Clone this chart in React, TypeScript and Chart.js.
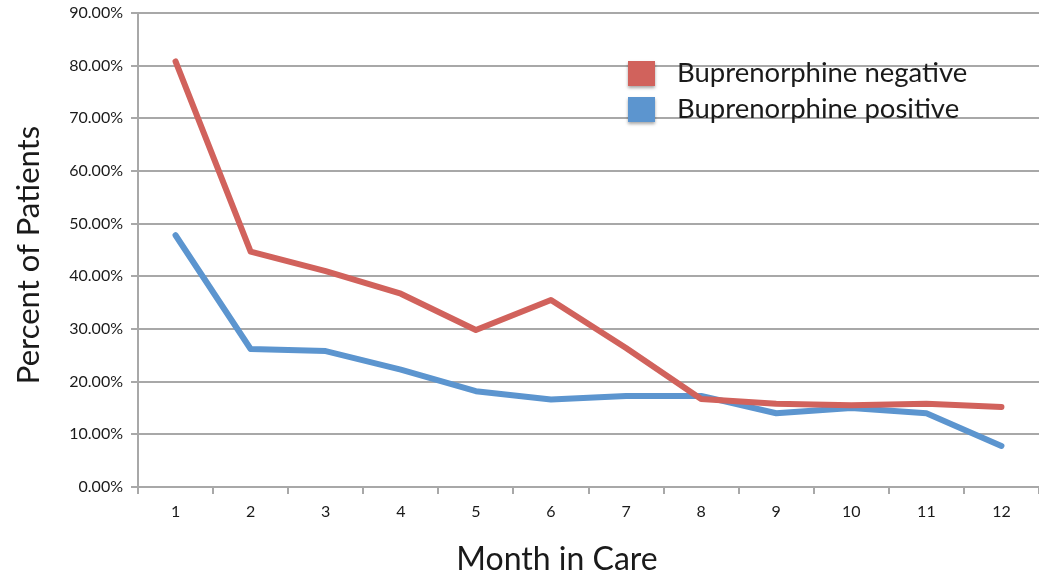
import React, { useEffect, useRef } from "react";
import { Chart, registerables } from "chart.js";

Chart.register(...registerables);

const months = ["1", "2", "3", "4", "5", "6", "7", "8", "9", "10", "11", "12"];
const negativeValues = [80.8, 44.7, 41.0, 36.7, 29.8, 35.5, 26.4, 16.7, 15.8, 15.5, 15.8, 15.2];
const positiveValues = [47.8, 26.2, 25.8, 22.3, 18.2, 16.6, 17.3, 17.3, 14.0, 15.0, 14.0, 7.8];
const seriesLabels = ["Buprenorphine negative", "Buprenorphine positive"];
const seriesColors = ["#d1625c", "#5c95cf"];
const yMin = 0;
const yMax = 90;
const yStep = 10;
const xTitle = "Month in Care";
const yTitle = "Percent of Patients";

const FONT = "Lato, 'Open Sans', sans-serif";
const GRID = "#a8a8a8";
const TEXT = "#1a1a1a";

const decorPlugin = {
  id: "decor",
  afterDraw(chart: any) {
    const { ctx, chartArea } = chart;
    ctx.save();
    // legend
    chart.data.datasets.forEach((ds: any, i: number) => {
      const bx = 628;
      const by = 61 + i * 36;
      ctx.save();
      ctx.shadowColor = "rgba(0,0,0,0.35)";
      ctx.shadowBlur = 3;
      ctx.shadowOffsetY = 2;
      ctx.fillStyle = ds.borderColor;
      ctx.fillRect(bx, by, 27, 25);
      ctx.restore();
      ctx.fillStyle = TEXT;
      ctx.font = `27.5px ${FONT}`;
      ctx.textBaseline = "middle";
      ctx.textAlign = "left";
      ctx.fillText(ds.label, 677, by + 12);
    });
    // axis titles
    ctx.fillStyle = TEXT;
    ctx.font = `32px ${FONT}`;
    ctx.textAlign = "center";
    ctx.textBaseline = "middle";
    ctx.fillText(xTitle, 557, 560);
    ctx.save();
    ctx.translate(29, (chartArea.top + chartArea.bottom) / 2 + 5);
    ctx.rotate(-Math.PI / 2);
    ctx.font = `31px ${FONT}`;
    ctx.fillText(yTitle, 0, 0);
    ctx.restore();
    ctx.restore();
  },
};

export default function App() {
  const ref = useRef<HTMLCanvasElement | null>(null);
  useEffect(() => {
    if (!ref.current) return;
    const chart = new Chart(ref.current, {
      type: "line",
      data: {
        labels: months,
        datasets: [
          {
            label: seriesLabels[0],
            data: negativeValues,
            borderColor: seriesColors[0],
            backgroundColor: seriesColors[0],
            borderWidth: 6,
            pointRadius: 0,
            tension: 0,
            borderJoinStyle: "round",
            borderCapStyle: "round",
          },
          {
            label: seriesLabels[1],
            data: positiveValues,
            borderColor: seriesColors[1],
            backgroundColor: seriesColors[1],
            borderWidth: 6,
            pointRadius: 0,
            tension: 0,
            borderJoinStyle: "round",
            borderCapStyle: "round",
          },
        ],
      },
      options: {
        animation: false,
        responsive: true,
        maintainAspectRatio: false,
        layout: { padding: { top: 13, right: 0, left: 0, bottom: 0 } },
        plugins: {
          legend: { display: false },
          tooltip: { enabled: false },
        },
        scales: {
          x: {
            type: "category",
            offset: true,
            grid: {
              offset: true,
              drawOnChartArea: false,
              drawTicks: true,
              tickLength: 7,
              color: GRID,
              lineWidth: 2,
            },
            border: { display: true, color: GRID, width: 2 },
            ticks: {
              padding: 8,
              color: TEXT,
              font: { family: FONT, size: 16 },
              maxRotation: 0,
            },
            afterFit: (s: any) => {
              s.height = 96;
              s.paddingLeft = 0;
              s.paddingRight = 0;
            },
          },
          y: {
            min: yMin,
            max: yMax,
            ticks: {
              stepSize: yStep,
              padding: 8,
              color: TEXT,
              font: { family: FONT, size: 16 },
              callback: (v: any) => Number(v).toFixed(2) + "%",
            },
            grid: {
              color: GRID,
              lineWidth: 2,
              tickLength: 7,
            },
            border: { display: true, color: GRID, width: 2 },
            afterFit: (s: any) => {
              s.width = 138;
              s.paddingTop = 0;
              s.paddingBottom = 0;
            },
          },
        },
      },
      plugins: [decorPlugin],
    });
    return () => chart.destroy();
  }, []);
  return (
    <div style={{ position: "fixed", left: 0, top: 0, width: 1039, height: 583, background: "#fff" }}>
      <canvas ref={ref} />
    </div>
  );
}
